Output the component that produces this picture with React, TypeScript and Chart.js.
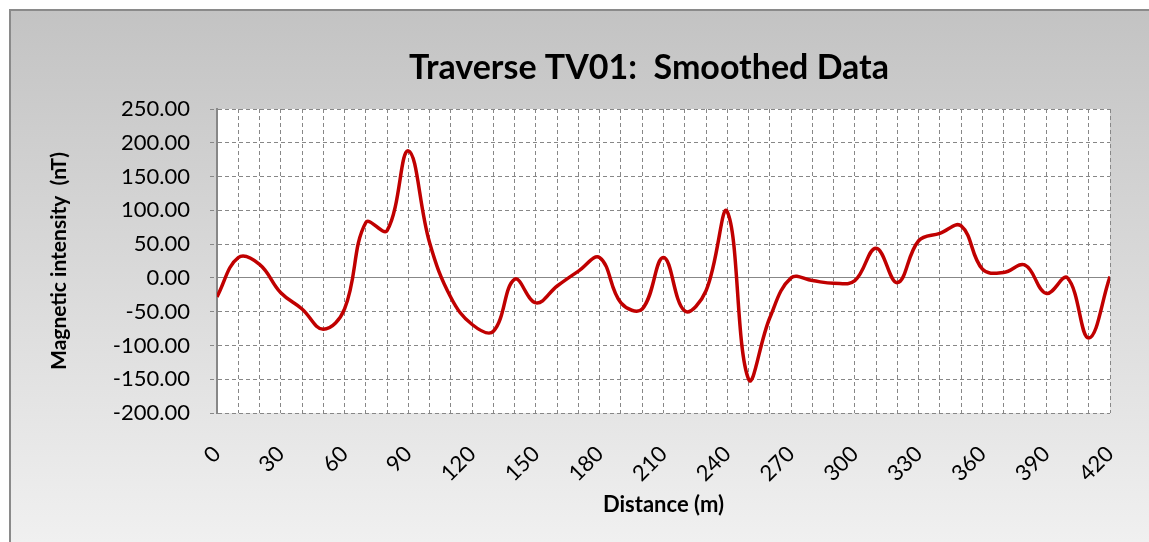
import React, { useEffect, useRef } from 'react';
import { Chart, registerables } from 'chart.js';

Chart.register(...registerables);

const TITLE = 'Traverse TV01:  Smoothed Data';
const Y_TITLE = 'Magnetic intensity  (nT)';
const X_TITLE = 'Distance (m)';

const distances = [
  0, 10, 20, 30, 40, 50, 60, 70, 80, 90, 100, 110, 120, 130, 140, 150, 160, 170, 180, 190, 200,
  210, 220, 230, 240, 250, 260, 270, 280, 290, 300, 310, 320, 330, 340, 350, 360, 370, 380, 390, 400, 410, 420,
];

const intensity = [
  -28, 30, 20, -22, -46, -76, -46, 82, 70, 188, 52, -29, -69, -79, -2, -37, -12, 10, 30, -37, -46,
  30, -49, -19, 98, -150, -59, 0, -4, -8, -4, 44, -7, 55, 66, 77, 13, 8, 19, -23, 0, -89, 2,
];

const Y_MIN = -200;
const Y_MAX = 250;
const Y_STEP = 50;
const X_MIN = 0;
const X_MAX = 420;
const X_STEP = 10;
const X_LABEL_EVERY = 30;

const FONT = 'Lato, "Open Sans", sans-serif';
const GRID = '#878787';

const framePlugin = {
  id: 'frame',
  beforeDraw(chart: any) {
    const { ctx, width, height, chartArea } = chart;
    ctx.save();
    ctx.fillStyle = '#ffffff';
    ctx.fillRect(0, 0, width, height);
    const g = ctx.createLinearGradient(0, 10, 0, height);
    g.addColorStop(0, '#c3c3c3');
    g.addColorStop(1, '#f0f0f0');
    ctx.fillStyle = g;
    ctx.fillRect(10, 10, width - 10, height - 10);
    ctx.strokeStyle = '#8a8a8a';
    ctx.lineWidth = 2;
    ctx.beginPath();
    ctx.moveTo(10, height);
    ctx.lineTo(10, 10);
    ctx.lineTo(width, 10);
    ctx.stroke();
    ctx.fillStyle = '#ffffff';
    ctx.fillRect(chartArea.left, chartArea.top, chartArea.right - chartArea.left, chartArea.bottom - chartArea.top);
    ctx.fillStyle = '#000000';
    ctx.font = `bold 34px ${FONT}`;
    ctx.textAlign = 'center';
    ctx.textBaseline = 'middle';
    ctx.fillText(TITLE, 649, 68);
    ctx.restore();
  },
};

export default function App() {
  const ref = useRef<HTMLCanvasElement | null>(null);

  useEffect(() => {
    document.body.style.margin = '0';
    const canvas = ref.current;
    if (!canvas) return;
    const points = distances.map((d, i) => ({ x: d, y: intensity[i] }));
    const dash = (c: any) => (c && c.tick && c.tick.value === 0 ? [] : [4, 3]);
    const chart = new Chart(canvas, {
      type: 'line',
      data: {
        datasets: [
          {
            data: points,
            borderColor: '#c00000',
            borderWidth: 3.5,
            pointRadius: 0,
            tension: 0.4,
            fill: false,
          },
        ],
      },
      options: {
        responsive: false,
        animation: false,
        layout: { padding: { top: 109, right: 39, left: 0, bottom: 0 } },
        plugins: { legend: { display: false }, title: { display: false }, tooltip: { enabled: false } },
        scales: {
          x: {
            type: 'linear',
            min: X_MIN,
            max: X_MAX,
            afterFit: (s: any) => {
              s.height = 129;
              s.paddingLeft = 0;
              s.paddingRight = 0;
            },
            afterBuildTicks: (s: any) => {
              const t = [];
              for (let v = X_MIN; v <= X_MAX; v += X_STEP) t.push({ value: v });
              s.ticks = t;
            },
            ticks: {
              autoSkip: false,
              minRotation: 45,
              maxRotation: 45,
              padding: 28,
              color: '#000',
              font: { family: FONT, size: 22 },
              callback: (v: any) => (Number(v) % X_LABEL_EVERY === 0 ? String(v) : ''),
            },
            grid: { color: GRID, lineWidth: 1, tickLength: 0, drawTicks: false },
            border: { display: false, dash: [4, 3] },
            title: {
              display: true,
              text: X_TITLE,
              color: '#000',
              font: { family: FONT, size: 22, weight: 'bold' },
              padding: { top: 0, bottom: 24 },
            },
          },
          y: {
            min: Y_MIN,
            max: Y_MAX,
            afterFit: (s: any) => {
              s.width = 217;
              s.paddingTop = 0;
              s.paddingBottom = 0;
            },
            ticks: {
              stepSize: Y_STEP,
              padding: 20,
              color: '#000',
              font: { family: FONT, size: 22 },
              callback: (v: any) => Number(v).toFixed(2),
            },
            grid: {
              color: GRID,
              lineWidth: 1,
              tickLength: 7,
              tickColor: GRID,
              tickBorderDash: [4, 3],
            },
            border: { display: true, color: GRID, width: 2, dash: dash },
            title: {
              display: true,
              text: Y_TITLE,
              color: '#000',
              font: { family: FONT, size: 21, weight: 'bold' },
              padding: { top: 47, bottom: 0 },
            },
          },
        },
      } as any,
      plugins: [framePlugin],
    });
    return () => chart.destroy();
  }, []);

  return (
    <div style={{ position: 'absolute', left: 0, top: 0, width: 1149, height: 542 }}>
      <canvas ref={ref} width={1149} height={542} />
    </div>
  );
}
